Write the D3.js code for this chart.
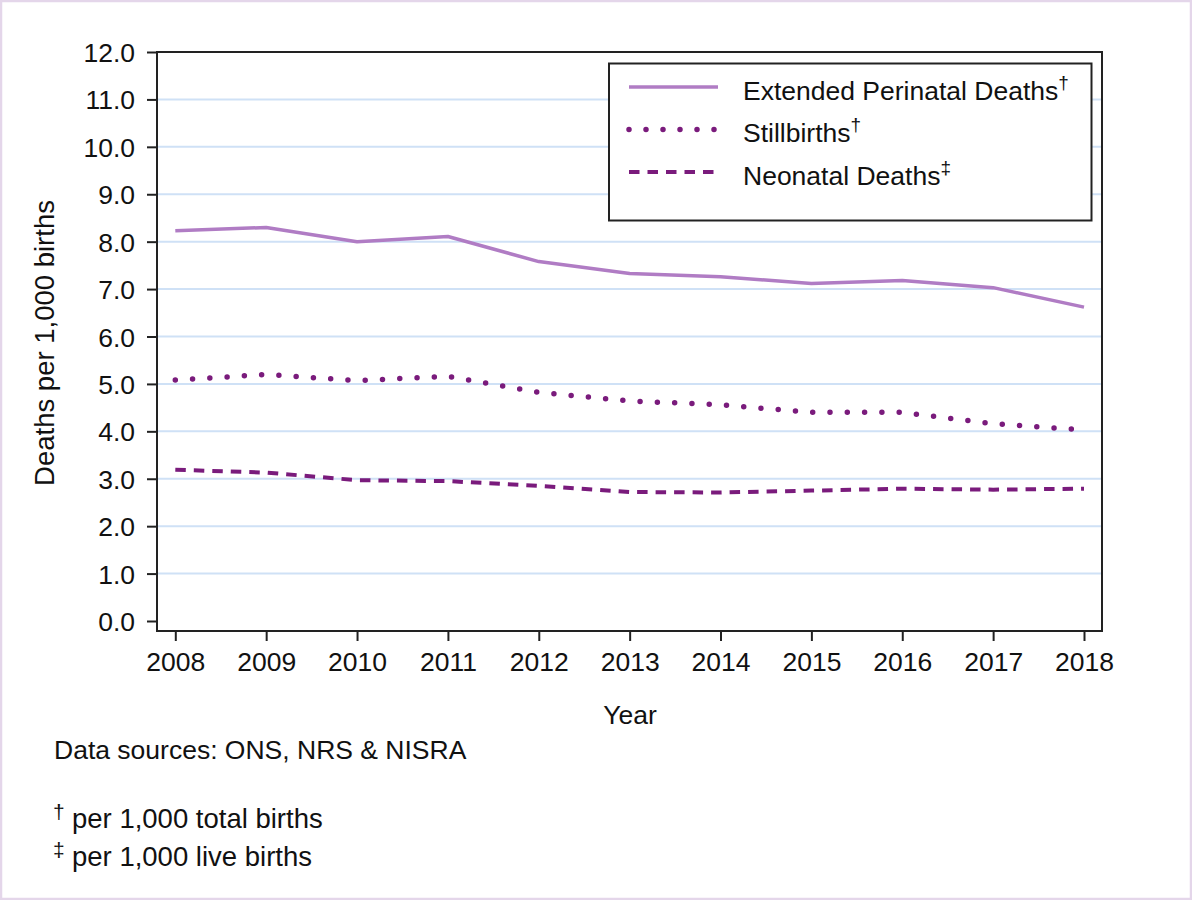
<!DOCTYPE html>
<html><head><meta charset="utf-8">
<script src="https://cdn.jsdelivr.net/npm/d3@7"></script>
<style>
html,body{margin:0;padding:0;background:#fff;}
svg{display:block;font-family:"Liberation Sans",Arial,Helvetica,sans-serif;}
</style></head>
<body>
<svg id="chart" width="1192" height="900"></svg>
<script>
const years = [2008,2009,2010,2011,2012,2013,2014,2015,2016,2017,2018];
const extendedPerinatal = [8.23,8.30,8.00,8.11,7.58,7.33,7.26,7.12,7.18,7.03,6.62];
const stillbirths = [5.08,5.20,5.07,5.16,4.82,4.64,4.56,4.40,4.40,4.16,4.03];
const neonatal = [3.19,3.13,2.97,2.95,2.85,2.72,2.71,2.75,2.79,2.77,2.79];
const yTicks = [0,1,2,3,4,5,6,7,8,9,10,11,12];
const seriesNames = ["Extended Perinatal Deaths","Stillbirths","Neonatal Deaths"];
const seriesMarks = ["\u2020","\u2020","\u2021"];

(function(){
const FS = "26.5px";
const svg = d3.select("#chart");
svg.append("rect").attr("x",1).attr("y",1).attr("width",1190).attr("height",898)
  .attr("fill","#fff").attr("stroke","#e4d6ea").attr("stroke-width",2.5);

const pL=157, pR=1102, pT=52, pB=631;
const x = d3.scaleLinear().domain([2008,2018]).range([175.3,1084]);
const y = d3.scaleLinear().domain([0,12]).range([621,52]);

svg.append("g").selectAll("line").data(yTicks.filter(d=>d>0 && d<12)).join("line")
  .attr("x1",pL).attr("x2",pR).attr("y1",d=>y(d)).attr("y2",d=>y(d))
  .attr("stroke","#cfe1f6").attr("stroke-width",2);

const yAxis = d3.axisLeft(y).tickValues(yTicks).tickFormat(d3.format(".1f")).tickSize(10).tickPadding(12);
const gy = svg.append("g").attr("transform",`translate(${pL},0)`).call(yAxis);
const xAxis = d3.axisBottom(x).tickValues(years).tickFormat(d3.format("d")).tickSize(10).tickPadding(12);
const gx = svg.append("g").attr("transform",`translate(0,${pB})`).call(xAxis);
[gx,gy].forEach(g=>{
  g.select(".domain").remove();
  g.selectAll(".tick line").attr("stroke","#222").attr("stroke-width",2);
  g.selectAll(".tick text").attr("fill","#111").style("font-size",FS);
});
gy.selectAll(".tick text").attr("dy","0.36em");
gx.selectAll(".tick text").attr("dy","0.68em");

svg.append("rect").attr("x",pL).attr("y",pT).attr("width",pR-pL).attr("height",pB-pT)
  .attr("fill","none").attr("stroke","#222").attr("stroke-width",2);

const line = d3.line().x((d,i)=>x(years[i])).y(d=>y(d));
const styles = [
  {stroke:"#b07cc4", width:3.5, dash:null, cap:"butt"},
  {stroke:"#7a1b7c", width:5.5, dash:"0 17.3", cap:"round"},
  {stroke:"#7a1b7c", width:4, dash:"10.5 8", cap:"butt"}
];
[extendedPerinatal,stillbirths,neonatal].forEach((s,i)=>{
  svg.append("path").datum(s).attr("d",line).attr("fill","none")
    .attr("stroke",styles[i].stroke).attr("stroke-width",styles[i].width)
    .attr("stroke-dasharray",styles[i].dash).attr("stroke-linecap",styles[i].cap)
    .attr("stroke-linejoin","round");
});

const lg = svg.append("g");
lg.append("rect").attr("x",609).attr("y",63.5).attr("width",482.5).attr("height",157)
  .attr("fill","#fff").attr("stroke","#222").attr("stroke-width",2);
const legY = [87,129.5,172];
seriesNames.forEach((n,i)=>{
  lg.append("line").attr("x1",629).attr("x2",718).attr("y1",legY[i]).attr("y2",legY[i])
    .attr("stroke",styles[i].stroke).attr("stroke-width",styles[i].width)
    .attr("stroke-dasharray",i===1?"0 17":styles[i].dash).attr("stroke-linecap",styles[i].cap);
  const t = lg.append("text").attr("x",743).attr("y",legY[i]+12.5).attr("fill","#111").style("font-size",FS);
  t.append("tspan").text(n);
  t.append("tspan").attr("dy",-11).style("font-size","19px").text(seriesMarks[i]);
});

svg.append("text").attr("transform","translate(54,343) rotate(-90)").attr("text-anchor","middle")
  .attr("fill","#111").style("font-size","27.5px").text("Deaths per 1,000 births");
svg.append("text").attr("x",630).attr("y",724).attr("text-anchor","middle")
  .attr("fill","#111").style("font-size",FS).text("Year");

svg.append("text").attr("x",54).attr("y",759).attr("fill","#111").style("font-size",FS)
  .text("Data sources: ONS, NRS & NISRA");
const notes = [["\u2020","per 1,000 total births"],["\u2021","per 1,000 live births"]];
notes.forEach((n,i)=>{
  const by = 828 + i*37.5;
  svg.append("text").attr("x",53).attr("y",by-9).attr("fill","#111").style("font-size","21px").text(n[0]);
  svg.append("text").attr("x",72).attr("y",by).attr("fill","#111").style("font-size","27.5px").text(n[1]);
});
})();
</script>
</body></html>
